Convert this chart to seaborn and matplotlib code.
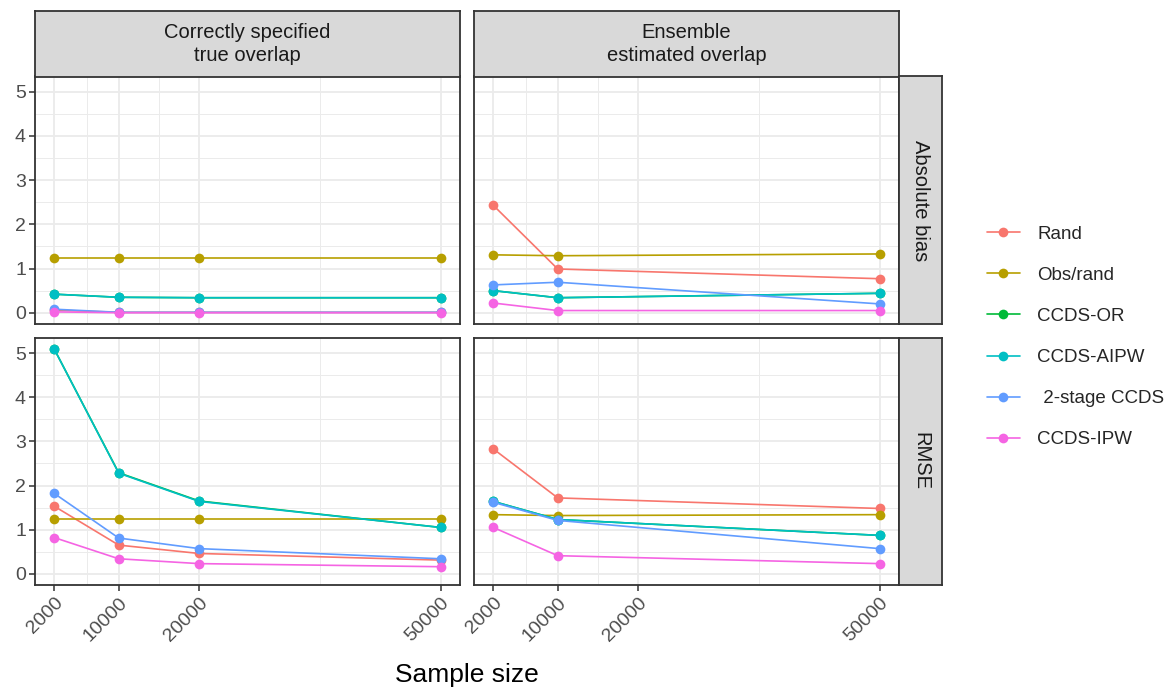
import matplotlib
matplotlib.use("Agg")
import matplotlib.pyplot as plt
from matplotlib.lines import Line2D
from matplotlib.ticker import FixedLocator
import numpy as np
import pandas as pd
import seaborn as sns

# ---- data -------------------------------------------------------------
methods = ["Rand", "Obs/rand", "CCDS-OR", "CCDS-AIPW", " 2-stage CCDS", "CCDS-IPW"]
palette = ["#F8766D", "#B79F00", "#00BA38", "#00BFC4", "#619CFF", "#F564E3"]

settings = ["Correctly specified\ntrue overlap", "Ensemble\nestimated overlap"]
metrics = ["Absolute bias", "RMSE"]

n_true = [2000, 10000, 20000, 50000]
n_ens = [2000, 10000, 50000]
x_breaks = [2000, 10000, 20000, 50000]

# Absolute bias, correctly specified overlap
bias_true = {
    "Rand":          [0.06, 0.01, 0.01, 0.01],
    "Obs/rand":      [1.23, 1.23, 1.23, 1.23],
    "CCDS-OR":       [0.42, 0.35, 0.34, 0.34],
    "CCDS-AIPW":     [0.42, 0.35, 0.34, 0.34],
    " 2-stage CCDS": [0.08, 0.01, 0.01, 0.01],
    "CCDS-IPW":      [0.02, 0.00, 0.00, 0.00],
}
# Absolute bias, ensemble estimated overlap
bias_ens = {
    "Rand":          [2.43, 0.99, 0.77],
    "Obs/rand":      [1.31, 1.29, 1.33],
    "CCDS-OR":       [0.50, 0.34, 0.44],
    "CCDS-AIPW":     [0.50, 0.34, 0.44],
    " 2-stage CCDS": [0.63, 0.69, 0.20],
    "CCDS-IPW":      [0.22, 0.05, 0.05],
}
# RMSE, correctly specified overlap
rmse_true = {
    "Rand":          [1.53, 0.65, 0.46, 0.31],
    "Obs/rand":      [1.25, 1.25, 1.25, 1.25],
    "CCDS-OR":       [5.09, 2.29, 1.65, 1.05],
    "CCDS-AIPW":     [5.09, 2.28, 1.64, 1.05],
    " 2-stage CCDS": [1.82, 0.81, 0.57, 0.34],
    "CCDS-IPW":      [0.82, 0.34, 0.23, 0.16],
}
# RMSE, ensemble estimated overlap
rmse_ens = {
    "Rand":          [2.83, 1.72, 1.48],
    "Obs/rand":      [1.34, 1.32, 1.34],
    "CCDS-OR":       [1.64, 1.23, 0.87],
    "CCDS-AIPW":     [1.64, 1.23, 0.87],
    " 2-stage CCDS": [1.62, 1.21, 0.57],
    "CCDS-IPW":      [1.05, 0.41, 0.23],
}

panels = {
    (0, 0): (n_true, bias_true),
    (0, 1): (n_ens, bias_ens),
    (1, 0): (n_true, rmse_true),
    (1, 1): (n_ens, rmse_ens),
}

records = []
for (r, c), (ns, table) in panels.items():
    for m in methods:
        for n, v in zip(ns, table[m]):
            records.append({"metric": metrics[r], "setting": settings[c],
                            "n": n, "method": m, "value": v})
df = pd.DataFrame(records)

# ---- style --------------------------------------------------------------
sns.set_theme(style="white")
plt.rcParams["font.family"] = ["Liberation Sans", "DejaVu Sans"]

W, H = 1171, 690
fig = plt.figure(figsize=(W / 100, H / 100), dpi=100)


def box(x0, y0, x1, y1):
    return [x0 / W, 1 - y1 / H, (x1 - x0) / W, (y1 - y0) / H]


col_px = [(35, 460), (474, 899)]
row_px = [(76.5, 324), (338, 585)]
strip_top = 11
strip_right = 942

border = "#333333"
grid_col = "#EBEBEB"
strip_bg = "#D9D9D9"

ymax = df["value"].max()
ypad = 0.05 * ymax
xmin, xmax = min(x_breaks), max(x_breaks)
xpad = 0.05 * (xmax - xmin)
x_minor = [(a + b) / 2 for a, b in zip(x_breaks[:-1], x_breaks[1:])]

for r in range(2):
    for c in range(2):
        x0, x1 = col_px[c]
        y0, y1 = row_px[r]
        ax = fig.add_axes(box(x0, y0, x1, y1))
        sub = df[(df["metric"] == metrics[r]) & (df["setting"] == settings[c])]
        sns.lineplot(data=sub, x="n", y="value", hue="method",
                     hue_order=methods, palette=palette, marker="o",
                     markersize=7, markeredgewidth=0, linewidth=1.2,
                     legend=False, ax=ax, zorder=3)
        ax.set_xlim(xmin - xpad, xmax + xpad)
        ax.set_ylim(-ypad, ymax + ypad)
        ax.xaxis.set_major_locator(FixedLocator(x_breaks))
        ax.xaxis.set_minor_locator(FixedLocator(x_minor))
        ax.yaxis.set_major_locator(FixedLocator([0, 1, 2, 3, 4, 5]))
        ax.yaxis.set_minor_locator(FixedLocator([0.5, 1.5, 2.5, 3.5, 4.5]))
        ax.grid(which="major", color=grid_col, linewidth=1.3, zorder=0)
        ax.grid(which="minor", color=grid_col, linewidth=0.7, zorder=0)
        ax.set_axisbelow(True)
        for s in ax.spines.values():
            s.set_color(border)
            s.set_linewidth(1.3)
        ax.set_xlabel("")
        ax.set_ylabel("")
        ax.tick_params(which="minor", length=0)
        ax.tick_params(which="major", color=border, width=1.1, length=4.5,
                       labelcolor="#4D4D4D", labelsize=14, pad=2)
        if c == 0:
            ax.tick_params(axis="y", left=True, labelleft=True)
        else:
            ax.tick_params(axis="y", left=False, labelleft=False)
        if r == 1:
            ax.tick_params(axis="x", bottom=True, labelbottom=True)
            ax.set_xticklabels([str(b) for b in x_breaks], rotation=45,
                               ha="right", va="top", rotation_mode="anchor")
        else:
            ax.tick_params(axis="x", bottom=False, labelbottom=False)

# column strips
for c in range(2):
    x0, x1 = col_px[c]
    sax = fig.add_axes(box(x0, strip_top, x1, row_px[0][0]))
    sax.set_facecolor(strip_bg)
    sax.set_xticks([])
    sax.set_yticks([])
    for s in sax.spines.values():
        s.set_color(border)
        s.set_linewidth(1.3)
    sax.text(0.5, 0.5, settings[c], ha="center", va="center",
             fontsize=14.5, color="#1A1A1A", linespacing=1.25,
             transform=sax.transAxes)

# row strips
for r in range(2):
    y0, y1 = row_px[r]
    sax = fig.add_axes(box(col_px[1][1], y0, strip_right, y1))
    sax.set_facecolor(strip_bg)
    sax.set_xticks([])
    sax.set_yticks([])
    for s in sax.spines.values():
        s.set_color(border)
        s.set_linewidth(1.3)
    sax.text(0.5, 0.5, metrics[r], ha="center", va="center", rotation=270,
             fontsize=14.5, color="#1A1A1A", transform=sax.transAxes)

# shared axis title
fig.text((col_px[0][0] + col_px[1][1]) / 2 / W, 1 - 675 / H, "Sample size",
         ha="center", va="center", fontsize=19, color="black")

# legend
handles = [Line2D([0], [0], color=col, marker="o", markersize=7,
                  markeredgewidth=0, linewidth=1.2) for col in palette]
fig.legend(handles, methods, loc="center left",
           bbox_to_anchor=(970 / W, 1 - 337 / H), frameon=False,
           fontsize=13.5, labelspacing=1.28, handlelength=1.75,
           handletextpad=0.95)

fig.savefig("out.png", dpi=100)
